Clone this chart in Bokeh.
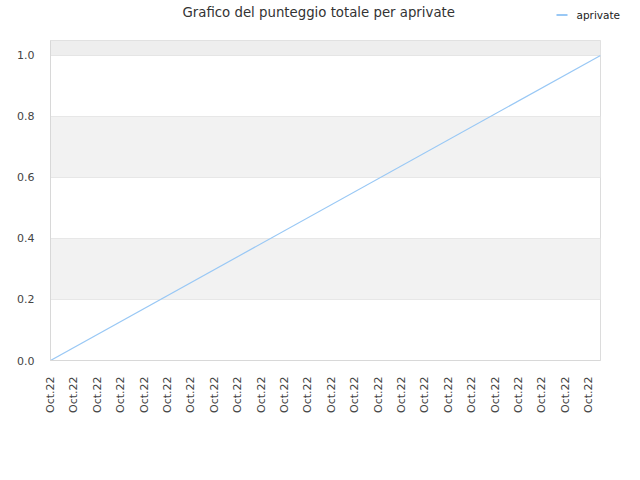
import math
from bokeh.plotting import figure
from bokeh.layouts import column
from bokeh.models import (BoxAnnotation, FixedTicker, Range1d, Label)
from bokeh.embed import file_html
from bokeh.resources import INLINE

# ---- data ----
x_index = [0, 23.5]
scores = [0.0, 1.0]
x_tick_positions = list(range(24))
x_tick_labels = ["Oct.22"] * 24
y_ticks = [0.0, 0.2, 0.4, 0.6, 0.8, 1.0]
series_name = "aprivate"
title_text = "Grafico del punteggio totale per aprivate"

FONT = "DejaVu Sans"
LINE_COLOR = "#99c8f5"
W = 624

# ---- header: title + legend (header uses pixel coordinates) ----
h = figure(width=W, height=40, output_backend="svg", toolbar_location=None,
           x_range=Range1d(0, W), y_range=Range1d(40, 0),
           x_axis_location=None, y_axis_location=None,
           min_border_left=0, min_border_right=0, min_border_top=0, min_border_bottom=0)
h.frame_align = False
h.grid.visible = False
h.outline_line_color = None
h.background_fill_color = "white"
h.border_fill_color = "white"
h.add_layout(Label(x=182, y=12, text=title_text, text_font=FONT, text_font_size="13.3px",
                   text_color="#333333", text_align="left", text_baseline="middle"))
# legend swatch + label
h.line([556, 567], [14.5, 14.5], line_color=LINE_COLOR, line_width=2)
h.add_layout(Label(x=576, y=14, text=series_name, text_font=FONT, text_font_size="10.5px",
                   text_color="#222222", text_align="left", text_baseline="middle"))

# ---- main plot ----
p = figure(width=W, height=424, output_backend="svg", toolbar_location=None,
           x_range=Range1d(0, 23.5), y_range=Range1d(0, 1.049),
           min_border_left=50, min_border_right=24, min_border_top=0,
           min_border_bottom=104)
p.frame_align = False

for lo, hi, col in [(0.2, 0.4, "#f2f2f2"), (0.6, 0.8, "#f2f2f2"), (1.0, 1.049, "#eeeeee")]:
    p.add_layout(BoxAnnotation(bottom=lo, top=hi, fill_color=col, fill_alpha=1,
                               line_alpha=0, level="underlay"))

p.line(x_index, scores, line_color=LINE_COLOR, line_width=1.2)

p.outline_line_color = "#dcdcdc"
p.background_fill_color = "white"
p.border_fill_color = "white"

p.xgrid.visible = False
p.ygrid.grid_line_color = "#dddddd"
p.ygrid.ticker = FixedTicker(ticks=y_ticks)

p.yaxis.ticker = FixedTicker(ticks=y_ticks)
p.yaxis.major_label_overrides = {t: f"{t:.1f}" for t in y_ticks}
p.xaxis.ticker = FixedTicker(ticks=x_tick_positions)
p.xaxis.major_label_overrides = {i: lab for i, lab in zip(x_tick_positions, x_tick_labels)}
p.xaxis.major_label_orientation = math.pi / 2

for ax in (p.xaxis, p.yaxis):
    ax.axis_line_color = "#d8d8d8"
    ax.major_tick_line_color = None
    ax.minor_tick_line_color = None
    ax.major_label_text_font = FONT
    ax.major_label_text_font_size = "11px"
    ax.major_label_text_color = "#444444"
p.yaxis.major_label_standoff = 10
p.xaxis.major_label_standoff = 10

layout = column(h, p, spacing=0)
open("out.html", "w").write(file_html(layout, INLINE))
